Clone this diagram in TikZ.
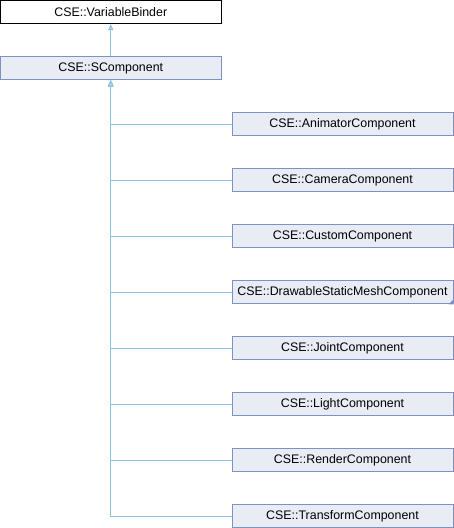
\documentclass[tikz,border=0pt]{standalone}
\usepackage{fontspec}
\setmainfont{Liberation Sans}
\usetikzlibrary{arrows.meta}
\definecolor{boxfill}{HTML}{E8ECF5}
\definecolor{boxline}{HTML}{7D91C4}
\definecolor{edgeblue}{HTML}{8FC3E2}
\definecolor{cornerblue}{HTML}{7D91C4}
\begin{document}
\begin{tikzpicture}[x=1pt,y=-1pt,
  cls/.style={draw=boxline,fill=boxfill,line width=1pt,minimum width=221pt,minimum height=23.5pt,inner sep=0pt,font=\fontsize{12.4}{14}\selectfont},
  base/.style={cls,draw=black,fill=white},
  inh/.style={draw=edgeblue,line width=1pt,-{Triangle[open,fill=edgeblue!60,length=6pt,width=5pt]}}]
\useasboundingbox (0,0) rectangle (454,528);
\node[base] (vb) at (110.75,11.75) {CSE::VariableBinder};
\node[cls] (sc) at (110.75,68) {CSE::SComponent};
\node[cls] (an) at (342.5,124) {CSE::AnimatorComponent};
\node[cls] (ca) at (342.5,180) {CSE::CameraComponent};
\node[cls] (cu) at (342.5,236) {CSE::CustomComponent};
\node[cls] (dr) at (342.5,292) {CSE::DrawableStaticMeshComponent};
\node[cls] (jo) at (342.5,348) {CSE::JointComponent};
\node[cls] (li) at (342.5,404) {CSE::LightComponent};
\node[cls] (re) at (342.5,460) {CSE::RenderComponent};
\node[cls] (tr) at (342.5,516) {CSE::TransformComponent};
\fill[cornerblue] (dr.south east) -- ++(0,-5) -- ++(-5,5) -- cycle;
\draw[inh] (sc.north) -- (vb.south);
\foreach \n in {an,ca,cu,dr,jo,li,re,tr}
  \draw[inh] (\n.west) -| (sc.south);
\end{tikzpicture}
\end{document}
